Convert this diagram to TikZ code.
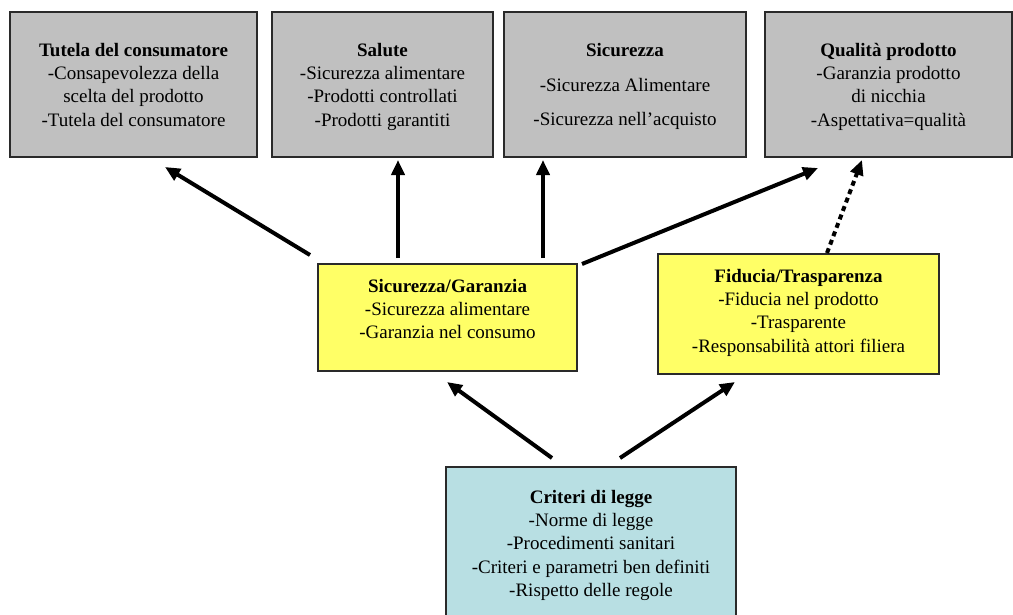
\documentclass[tikz,border=0pt]{standalone}
\usepackage{fontspec}
\setmainfont{Liberation Serif}
\usetikzlibrary{arrows.meta}
\definecolor{boxgray}{HTML}{C0C0C0}
\definecolor{boxyellow}{HTML}{FFFF66}
\definecolor{boxblue}{HTML}{B8DFE3}
\definecolor{edge}{HTML}{2A2A2A}
% #1 width, #2 height, #3 gap above the first line, #4 the lines
\newcommand\boxcontent[4]{\parbox[c][#2][t]{#1}{\centering\vspace*{#3}#4}}

\begin{document}
\begin{tikzpicture}[x=1pt,y=-1pt,
  panel/.style={draw=edge, line width=1.3pt, inner sep=0pt, outer sep=0pt,
    anchor=north west, font=\fontsize{19}{23.3}\selectfont},
  graypanel/.style={panel, fill=boxgray},
  yellowpanel/.style={panel, fill=boxyellow},
  bluepanel/.style={panel, fill=boxblue},
  arr/.style={line width=4pt, -{Triangle[length=15pt,width=13pt]}},
  dotarr/.style={arr, dash pattern=on 5pt off 4pt}]

\useasboundingbox (0,0) rectangle (1013,614);
\clip (0,0) rectangle (1013,614);

% top row
\node[graypanel] (b1) at (10,12) {\boxcontent{247pt}{145pt}{31pt}{%
  \textbf{Tutela del consumatore}\\-Consapevolezza della\\scelta del prodotto\\-Tutela del consumatore}};
\node[graypanel] (b2) at (272,12) {\boxcontent{221pt}{145pt}{31pt}{%
  \textbf{Salute}\\-Sicurezza alimentare\\-Prodotti controllati\\-Prodotti garantiti}};
\node[graypanel] (b3) at (504,12) {\boxcontent{242pt}{145pt}{31pt}{%
  \textbf{Sicurezza}\\[12pt]-Sicurezza Alimentare\\[11pt]-Sicurezza nell’acquisto}};
\node[graypanel] (b4) at (765,12) {\boxcontent{247pt}{145pt}{31pt}{%
  \textbf{Qualità prodotto}\\-Garanzia prodotto\\di nicchia\\-Aspettativa=qualità}};

% middle row
\node[yellowpanel] (y1) at (318,264) {\boxcontent{259pt}{107pt}{15pt}{%
  \textbf{Sicurezza/Garanzia}\\-Sicurezza alimentare\\-Garanzia nel consumo}};
\node[yellowpanel] (y2) at (658,254) {\boxcontent{281pt}{120pt}{15pt}{%
  \textbf{Fiducia/Trasparenza}\\-Fiducia nel prodotto\\-Trasparente\\-Responsabilità attori filiera}};

% bottom
\node[bluepanel] (c) at (446,467) {\boxcontent{290pt}{170pt}{23pt}{%
  \textbf{Criteri di legge}\\-Norme di legge\\-Procedimenti sanitari\\-Criteri e parametri ben definiti\\-Rispetto delle regole}};

% connectors
\draw[arr] ([xshift=-8pt,yshift=9pt]y1.north west) -- ([xshift=31.5pt,yshift=-10pt]b1.south);
\draw[arr] ([xshift=80pt,yshift=6pt]y1.north west) -- ([xshift=126pt,yshift=-3pt]b2.south west);
\draw[arr] ([xshift=225pt,yshift=6pt]y1.north west) -- ([xshift=39pt,yshift=-3pt]b3.south west);
\draw[arr] ([xshift=5pt]y1.north east) -- ([xshift=53pt,yshift=-11pt]b4.south west);
\draw[dotarr] ([xshift=169pt,yshift=1pt]y2.north west) -- ([xshift=97pt,yshift=-3pt]b4.south west);
\draw[arr] ([xshift=106pt,yshift=9pt]c.north west) -- ([xshift=129pt,yshift=-11pt]y1.south west);
\draw[arr] ([xshift=174pt,yshift=9pt]c.north west) -- ([xshift=77pt,yshift=-8pt]y2.south west);
\end{tikzpicture}
\end{document}
